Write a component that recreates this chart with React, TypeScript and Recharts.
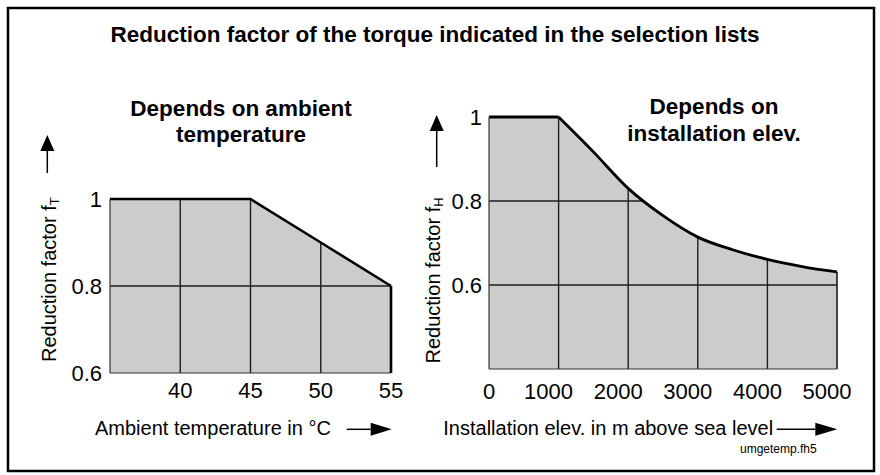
import {
  ComposedChart,
  Area,
  Line,
  XAxis,
  YAxis,
  CartesianGrid,
  ReferenceLine,
} from "recharts";

const FONT = '"Liberation Sans", Arial, Helvetica, sans-serif';

// ambient temperature chart
const tempC = [35, 45, 50, 55];
const factorT = [1, 1, 0.9, 0.8];
const tempTicks = [40, 45, 50, 55];
const tempDomain: [number, number] = [35, 55];
const factorTDomain: [number, number] = [0.6, 1];
const factorTTicks = [0.6, 0.8, 1];

// installation elevation chart
const elevM = [0, 1000, 1500, 2000, 2500, 3000, 3500, 4000, 4500, 5000];
const factorH = [1, 1, 0.917, 0.83, 0.765, 0.714, 0.684, 0.661, 0.644, 0.631];
const elevTicks = [0, 1000, 2000, 3000, 4000, 5000];
const elevDomain: [number, number] = [0, 5000];
const factorHDomain: [number, number] = [0.4, 1];
const factorHTicks = [0.6, 0.8, 1];
const KNEE_M = 1000;

const tempData = tempC.map((t, i) => ({ t, f: factorT[i] }));

const elevData = elevM.map((e, i) => ({
  e,
  flat: e <= KNEE_M ? factorH[i] : null,
  curve: e >= KNEE_M ? factorH[i] : null,
}));

const GRID = "#1e1e1e";
const FILL = "#cccccc";

const tickStyle = { fontSize: 22, fill: "#000", fontFamily: FONT };

function ElevTick({
  x = 0,
  y = 0,
  payload,
}: {
  x?: number;
  y?: number;
  payload?: { value: number };
}) {
  const v = payload?.value ?? 0;
  // labels in the original sit a bit left of their grid lines
  const shift = v === 0 ? 0 : -10;
  return (
    <text
      x={x + shift}
      y={y}
      dy="0.71em"
      textAnchor="middle"
      fontSize={22}
      fill="#000"
      fontFamily={FONT}
    >
      {v}
    </text>
  );
}

function Arrow({
  x1,
  y1,
  x2,
  y2,
  head = 16,
  half = 7,
}: {
  x1: number;
  y1: number;
  x2: number;
  y2: number;
  head?: number;
  half?: number;
}) {
  const len = Math.hypot(x2 - x1, y2 - y1);
  const ux = (x2 - x1) / len;
  const uy = (y2 - y1) / len;
  const bx = x2 - ux * head;
  const by = y2 - uy * head;
  return (
    <g>
      <line x1={x1} y1={y1} x2={bx} y2={by} stroke="#000" strokeWidth={1.5} />
      <polygon
        points={`${x2},${y2} ${bx - uy * half},${by + ux * half} ${bx + uy * half},${by - ux * half}`}
        fill="#000"
      />
    </g>
  );
}

function TempChart() {
  const lastT = tempC[tempC.length - 1];
  const lastF = factorT[factorT.length - 1];
  return (
    <ComposedChart
      width={420}
      height={475}
      data={tempData}
      margin={{ top: 199, right: 29, left: 60, bottom: 72 }}
    >
      <CartesianGrid
        fill={FILL}
        fillOpacity={1}
        stroke={GRID}
        strokeWidth={1.4}
        horizontalValues={[0.8]}
        verticalValues={tempTicks.filter((v) => v < lastT)}
      />
      {/* white cover above the curve hides the grid there */}
      <Area
        dataKey={(d: { f: number }) => [d.f, factorTDomain[1]]}
        type="linear"
        fill="#fff"
        fillOpacity={1}
        stroke="none"
        isAnimationActive={false}
      />
      <XAxis
        dataKey="t"
        type="number"
        domain={tempDomain}
        ticks={tempTicks}
        interval={0}
        tickLine={false}
        tickMargin={3}
        axisLine={{ stroke: "#333", strokeWidth: 1.2 }}
        tick={tickStyle}
        height={30}
      />
      <YAxis
        type="number"
        domain={factorTDomain}
        ticks={factorTTicks}
        interval={0}
        tickLine={false}
        axisLine={{ stroke: "#333", strokeWidth: 1.2 }}
        tick={tickStyle}
        width={50}
      />
      <Line
        dataKey="f"
        type="linear"
        stroke="#000"
        strokeWidth={2.6}
        dot={false}
        isAnimationActive={false}
      />
      <ReferenceLine
        segment={[
          { x: lastT, y: lastF },
          { x: lastT, y: factorTDomain[0] },
        ]}
        stroke="#000"
        strokeWidth={2.6}
      />
    </ComposedChart>
  );
}

function ElevChart() {
  const lastE = elevM[elevM.length - 1];
  const lastF = factorH[factorH.length - 1];
  return (
    <ComposedChart
      width={460}
      height={475}
      data={elevData}
      margin={{ top: 117, right: 43, left: 19, bottom: 76 }}
    >
      <CartesianGrid
        fill={FILL}
        fillOpacity={1}
        stroke={GRID}
        strokeWidth={1.4}
        horizontalValues={[0.6, 0.8]}
        verticalValues={elevTicks.filter((v) => v > 0 && v < lastE)}
      />
      <Area
        dataKey={(d: { curve: number | null }) =>
          d.curve == null ? null : [d.curve, factorHDomain[1]]
        }
        type="monotone"
        fill="#fff"
        fillOpacity={1}
        stroke="none"
        isAnimationActive={false}
      />
      <XAxis
        dataKey="e"
        type="number"
        domain={elevDomain}
        ticks={elevTicks}
        interval={0}
        tickLine={false}
        tickMargin={8}
        axisLine={{ stroke: "#333", strokeWidth: 1.2 }}
        tick={<ElevTick />}
        height={30}
      />
      <YAxis
        type="number"
        domain={factorHDomain}
        ticks={factorHTicks}
        interval={0}
        tickLine={false}
        tickMargin={1}
        axisLine={{ stroke: "#333", strokeWidth: 1.2 }}
        tick={tickStyle}
        width={50}
      />
      <ReferenceLine
        segment={[
          { x: lastE, y: lastF },
          { x: lastE, y: factorHDomain[0] },
        ]}
        stroke={GRID}
        strokeWidth={1.6}
      />
      <Line
        dataKey="flat"
        type="linear"
        stroke="#000"
        strokeWidth={2.8}
        dot={false}
        isAnimationActive={false}
      />
      <Line
        dataKey="curve"
        type="monotone"
        stroke="#000"
        strokeWidth={2.8}
        dot={false}
        isAnimationActive={false}
      />
    </ComposedChart>
  );
}

export default function App() {
  return (
    <div
      style={{
        position: "absolute",
        left: 0,
        top: 0,
        width: 880,
        height: 475,
        background: "#fff",
        fontFamily: FONT,
      }}
    >
      <div style={{ position: "absolute", left: 0, top: 0 }}>
        <TempChart />
      </div>
      <div style={{ position: "absolute", left: 420, top: 0 }}>
        <ElevChart />
      </div>

      <svg
        width={880}
        height={475}
        style={{ position: "absolute", left: 0, top: 0, pointerEvents: "none" }}
        fontFamily={FONT}
      >
        <rect
          x={8}
          y={8}
          width={866}
          height={463}
          fill="none"
          stroke="#000"
          strokeWidth={2.5}
        />
        <text
          x={435}
          y={42}
          textAnchor="middle"
          fontSize={22.5}
          fontWeight="bold"
        >
          Reduction factor of the torque indicated in the selection lists
        </text>

        <text textAnchor="middle" fontSize={22.5} fontWeight="bold">
          <tspan x={241} y={116}>
            Depends on ambient
          </tspan>
          <tspan x={241} y={142}>
            temperature
          </tspan>
        </text>
        <text textAnchor="middle" fontSize={22.5} fontWeight="bold">
          <tspan x={714} y={114}>
            Depends on
          </tspan>
          <tspan x={714} y={141}>
            installation elev.
          </tspan>
        </text>

        <text transform="translate(56 362) rotate(-90)" fontSize={20}>
          Reduction factor f
          <tspan fontSize={13} dy={3}>
            T
          </tspan>
        </text>
        <Arrow x1={47.3} y1={173} x2={47.3} y2={135} />

        <text transform="translate(439.5 363.5) rotate(-90)" fontSize={20}>
          Reduction factor f
          <tspan fontSize={13} dy={3}>
            H
          </tspan>
        </text>
        <Arrow x1={436.7} y1={167} x2={436.7} y2={115} />

        <text x={95} y={434.5} fontSize={20}>
          Ambient temperature in °C
        </text>
        <Arrow x1={346.7} y1={429.3} x2={391.7} y2={429.3} head={21} half={6.5} />

        <text x={443.3} y={435} fontSize={20}>
          Installation elev. in m above sea level
        </text>
        <Arrow x1={776.7} y1={429.3} x2={837.3} y2={429.3} head={22} half={6.5} />

        <text x={740} y={453.3} fontSize={12}>
          umgetemp.fh5
        </text>
      </svg>
    </div>
  );
}
